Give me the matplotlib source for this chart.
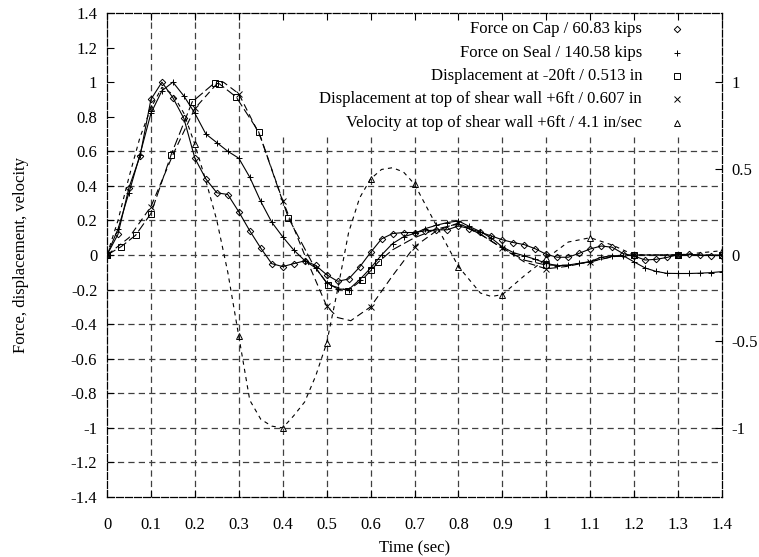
import matplotlib
matplotlib.use("Agg")
import matplotlib.pyplot as plt
import numpy as np

plt.rcParams['font.family'] = ['Liberation Serif', 'DejaVu Serif']
plt.rcParams['lines.scale_dashes'] = False

# sample times used by the two force records (markers on every point)
t_force = [0, 0.025, 0.05, 0.075, 0.1, 0.125, 0.15, 0.175, 0.2, 0.225, 0.25, 0.275,
           0.3, 0.325, 0.35, 0.375, 0.4, 0.425, 0.45, 0.475, 0.5, 0.525, 0.55, 0.575,
           0.6, 0.625, 0.65, 0.675, 0.7, 0.725, 0.75, 0.775, 0.8, 0.825, 0.85, 0.875,
           0.9, 0.925, 0.95, 0.975, 1.0, 1.025, 1.05, 1.075, 1.1, 1.125, 1.15, 1.175,
           1.2, 1.225, 1.25, 1.275, 1.3, 1.325, 1.35, 1.375, 1.4]

force_cap = [0, 0.12, 0.39, 0.57, 0.90, 1.00, 0.91, 0.79, 0.56, 0.44, 0.36, 0.35,
             0.25, 0.14, 0.04, -0.05, -0.067, -0.05, -0.034, -0.06, -0.114, -0.152, -0.139, -0.07,
             0.015, 0.093, 0.124, 0.13, 0.13, 0.14, 0.145, 0.146, 0.168, 0.153, 0.132, 0.11,
             0.088, 0.072, 0.06, 0.036, 0.004, -0.013, -0.013, 0.01, 0.035, 0.052, 0.045, 0.008,
             -0.006, -0.029, -0.025, -0.014, 0.002, 0.004, -0.002, -0.003, -0.003]

force_seal = [0, 0.15, 0.36, 0.58, 0.82, 0.95, 1.0, 0.92, 0.82, 0.70, 0.65, 0.60,
              0.56, 0.45, 0.31, 0.19, 0.105, 0.029, -0.032, -0.075, -0.16, -0.196, -0.2, -0.143,
              -0.076, 0.0, 0.066, 0.105, 0.125, 0.153, 0.172, 0.188, 0.197, 0.165, 0.135, 0.098,
              0.047, 0.014, -0.005, -0.025, -0.048, -0.062, -0.058, -0.048, -0.038, -0.013, -0.004, -0.004,
              -0.04, -0.075, -0.095, -0.106, -0.107, -0.107, -0.105, -0.102, -0.096]

# displacement at -20ft
t_d20 = [0, 0.032, 0.065, 0.1, 0.146, 0.194, 0.245, 0.256, 0.294, 0.345, 0.413, 0.468,
         0.503, 0.549, 0.581, 0.602, 0.617, 0.65, 0.7, 0.75, 0.8, 0.85, 0.9, 0.95,
         1.0, 1.05, 1.1, 1.15, 1.2, 1.3, 1.4]
disp_20 = [0, 0.048, 0.114, 0.24, 0.58, 0.886, 0.996, 0.99, 0.914, 0.714, 0.215, -0.05,
           -0.171, -0.206, -0.143, -0.086, -0.042, 0.03, 0.1, 0.15, 0.18, 0.12, 0.04, -0.03,
           -0.058, -0.06, -0.04, -0.01, 0.0, 0.0, 0.0]
d20_marks = [0, 0.032, 0.065, 0.1, 0.146, 0.194, 0.245, 0.256, 0.294, 0.345, 0.413,
             0.503, 0.549, 0.581, 0.602, 0.617, 1.0, 1.2, 1.3, 1.4]

# displacement at top of shear wall
t_wall = [0, 0.05, 0.1, 0.15, 0.2, 0.25, 0.265, 0.3, 0.35, 0.4, 0.45, 0.5, 0.525,
          0.555, 0.6, 0.65, 0.7, 0.75, 0.8, 0.85, 0.9, 0.95, 1.0, 1.05, 1.1, 1.15,
          1.2, 1.3, 1.4]
disp_wall = [0, 0.1, 0.28, 0.58, 0.848, 0.99, 1.0, 0.933, 0.68, 0.314, 0.0, -0.295, -0.362,
             -0.38, -0.3, -0.12, 0.048, 0.14, 0.185, 0.12, 0.04, -0.04, -0.08, -0.065, -0.038, -0.01,
             0.0, 0.0, 0.0]
wall_marks = [0, 0.1, 0.2, 0.3, 0.4, 0.5, 0.6, 0.7, 0.8, 0.9, 1.0, 1.1, 1.2, 1.3, 1.4]

# velocity at top of shear wall
t_vel = [0, 0.025, 0.05, 0.075, 0.1, 0.125, 0.15, 0.175, 0.2, 0.225, 0.25, 0.275,
         0.3, 0.325, 0.35, 0.375, 0.4, 0.425, 0.45, 0.475, 0.5, 0.525, 0.55, 0.575,
         0.6, 0.625, 0.65, 0.675, 0.7, 0.75, 0.8, 0.85, 0.875, 0.9, 0.95, 1.0,
         1.05, 1.1, 1.15, 1.2, 1.3, 1.4]
velocity = [0, 0.2, 0.45, 0.68, 0.85, 0.97, 0.93, 0.82, 0.64, 0.43, 0.2, -0.1,
            -0.47, -0.84, -0.95, -0.99, -1.0, -0.93, -0.85, -0.70, -0.51, -0.2, 0.13, 0.33,
            0.44, 0.495, 0.505, 0.48, 0.41, 0.17, -0.067, -0.22, -0.24, -0.229, -0.12, -0.02,
            0.075, 0.1, 0.058, 0.0, 0.0, 0.025]
vel_marks = [0, 0.1, 0.2, 0.3, 0.4, 0.5, 0.6, 0.7, 0.8, 0.9, 1.0, 1.1, 1.2, 1.3, 1.4]

labels = ["Force on Cap / 60.83 kips",
          "Force on Seal / 140.58 kips",
          "Displacement at -20ft / 0.513 in",
          "Displacement at top of shear wall +6ft / 0.607 in",
          "Velocity at top of shear wall +6ft / 4.1 in/sec"]

xticks = [0, 0.1, 0.2, 0.3, 0.4, 0.5, 0.6, 0.7, 0.8, 0.9, 1, 1.1, 1.2, 1.3, 1.4]
yticks = [-1.4, -1.2, -1, -0.8, -0.6, -0.4, -0.2, 0, 0.2, 0.4, 0.6, 0.8, 1, 1.2, 1.4]
y2ticks = [-1, -0.5, 0, 0.5, 1]

FS = 12


def idx(t, marks):
    return [i for i, v in enumerate(t) if any(abs(v - m) < 1e-6 for m in marks)]


def fmt(v):
    return ('%.1f' % v).rstrip('0').rstrip('.') if v != 0 else '0'


fig = plt.figure(figsize=(7.59, 5.57), dpi=100)
ax = fig.add_axes([107/759, 1-497/557, 615/759, 484/557])
ax.set_xlim(0, 1.4)
ax.set_ylim(-1.4, 1.4)

# grid (gnuplot left the key area clear)
gkw = dict(color='0.25', lw=0.9, dashes=(4.5, 3))
for x in xticks[1:-1]:
    ytop = 1.4 if x < 0.35 else 0.68
    ax.plot([x, x], [-1.4, ytop], zorder=1, **gkw)
for y in yticks[1:-1]:
    if y <= 0.6:
        ax.plot([0, 1.4], [y, y], zorder=1, **gkw)

mkw = dict(color='k', lw=0.8, mfc='none', mec='k', mew=0.7)
series = [
    (t_force, force_cap, 'D', 3.3, None, list(range(len(t_force)))),
    (t_force, force_seal, '+', 5, None, list(range(len(t_force)))),
    (t_d20, disp_20, 's', 4.2, (7, 2.5), idx(t_d20, d20_marks)),
    (t_wall, disp_wall, 'x', 4.5, (5, 3), idx(t_wall, wall_marks)),
    (t_vel, velocity, '^', 4.5, (3, 3), idx(t_vel, vel_marks)),
]
for (t, y, m, ms, dash, me) in series:
    ln, = ax.plot(t, y, marker=m, ms=ms, markevery=me, zorder=3, **mkw)
    if dash:
        ln.set_dashes(dash)

# key, gnuplot style: text right aligned, sample marker to its right
for i, (lab, s) in enumerate(zip(labels, series)):
    yy = 0.966 - i * 0.0482
    ax.text(0.870, yy, lab, transform=ax.transAxes, ha='right', va='center', fontsize=FS)
    ax.plot([0.927], [yy], marker=s[2], ms=s[3], transform=ax.transAxes,
            clip_on=False, ls='none', **{k: v for k, v in mkw.items() if k != 'lw'})

ax.set_xticks(xticks)
ax.set_xticklabels([fmt(v) for v in xticks])
ax.set_yticks(yticks)
ax.set_yticklabels([fmt(v) for v in yticks])
ax.tick_params(direction='in', length=5, width=0.8, top=True, right=True,
               labelsize=FS)
ax.tick_params(axis='x', pad=14.5)
ax.tick_params(axis='y', pad=7)
for sp in ax.spines.values():
    sp.set_linewidth(0.9)
    sp.set_linestyle((0, (5, 1.5)))

ax2 = ax.twinx()
ax2.set_ylim(-1.4, 1.4)
ax2.set_yticks(y2ticks)
ax2.set_yticklabels([fmt(v) for v in y2ticks])
ax2.tick_params(direction='in', length=5, width=0.8, labelsize=FS, pad=7)
for sp in ax2.spines.values():
    sp.set_visible(False)

ax.set_xlabel('Time (sec)', fontsize=FS, labelpad=5)
ax.set_ylabel('Force, displacement, velocity', fontsize=FS, labelpad=30)

fig.savefig('out.png', dpi=100)
